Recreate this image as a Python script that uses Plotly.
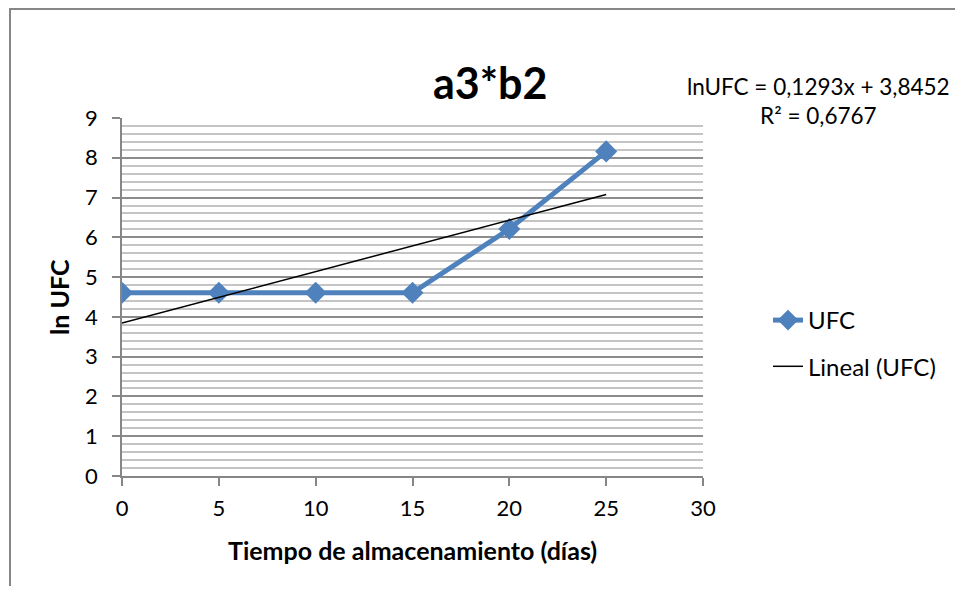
import plotly.graph_objects as go

# Data
dias = [0, 5, 10, 15, 20, 25]
ln_ufc = [4.605, 4.605, 4.605, 4.605, 6.21, 8.16]
pendiente = 0.1293
intercepto = 3.8452
r2 = 0.6767
x_ticks = [0, 5, 10, 15, 20, 25, 30]
y_ticks = [0, 1, 2, 3, 4, 5, 6, 7, 8, 9]

trend_x = [dias[0], dias[-1]]
trend_y = [pendiente * x + intercepto for x in trend_x]

FONT = "Lato, Carlito, Calibri, sans-serif"
BLUE = "#4F81BD"

OFF = 8  # page body offset
W, H = 963 - 2 * OFF, 594 - 2 * OFF
L, R, T, B = 122 - OFF, 703 - OFF, 118 - OFF, 476 - OFF


def px_x(p):
    return (p - OFF - L) / (R - L)


def px_y(p):
    return (B - (p - OFF)) / (B - T)


fig = go.Figure()
fig.add_trace(go.Scatter(
    x=dias, y=ln_ufc, mode="lines+markers", name="UFC",
    line=dict(color=BLUE, width=5),
    marker=dict(symbol="diamond", size=17, color=BLUE),
    legendgroup="a",
))
fig.add_trace(go.Scatter(
    x=trend_x, y=trend_y, mode="lines", name="Lineal (UFC)",
    line=dict(color="black", width=1.5),
    legendgroup="b",
))

fig.update_layout(
    width=W, height=H,
    margin=dict(l=L, r=W - R, t=T, b=H - B, pad=0),
    paper_bgcolor="white", plot_bgcolor="white",
    font=dict(family=FONT, size=22, color="black"),
    showlegend=True,
    legend=dict(x=px_x(768), xanchor="left", y=px_y(298), yanchor="top",
                font=dict(size=24, family=FONT), bgcolor="rgba(0,0,0,0)",
                tracegroupgap=12, traceorder="grouped"),
    xaxis=dict(range=[0, 30], tickvals=x_ticks, showgrid=False, zeroline=False,
               showline=True, linecolor="#868686", linewidth=1.5,
               ticks="outside", ticklen=8, tickcolor="#868686", tickwidth=1.5,
               tickfont=dict(size=22), ticklabelstandoff=4),
    yaxis=dict(range=[0, 9], tickvals=y_ticks, showgrid=True, gridcolor="#8c8c8c", gridwidth=1.5,
               zeroline=False, showline=True, linecolor="#868686", linewidth=1.5,
               ticks="outside", ticklen=8, tickcolor="#868686", tickwidth=1.5,
               tickfont=dict(size=22), ticklabelstandoff=10,
               minor=dict(dtick=0.2, showgrid=True, gridcolor="#c4c4c4", gridwidth=1.5, ticks="")),
)

# Title
fig.add_annotation(text="<b>a3*b2</b>", xref="paper", yref="paper",
                   x=px_x(490), y=px_y(82), xanchor="center", yanchor="middle",
                   showarrow=False, font=dict(size=43, family=FONT))
# Axis titles
fig.add_annotation(text="<b>Tiempo de almacenamiento (días)</b>", xref="paper", yref="paper",
                   x=px_x(412), y=px_y(550), xanchor="center", yanchor="middle",
                   showarrow=False, font=dict(size=25, family=FONT))
fig.add_annotation(text="<b>ln UFC</b>", xref="paper", yref="paper",
                   x=px_x(59), y=px_y(297), xanchor="center", yanchor="middle", textangle=-90,
                   showarrow=False, font=dict(size=25, family=FONT))

# Trendline equation (one text block, two lines)
eq_text = (f"lnUFC = {str(pendiente).replace('.', ',')}x + {str(intercepto).replace('.', ',')}"
           f"<br>R² = {str(r2).replace('.', ',')}")
fig.add_annotation(
    text=eq_text,
    xref="paper", yref="paper", x=px_x(952), y=px_y(101), xanchor="right", yanchor="middle",
    showarrow=False, align="center", font=dict(size=22.5, family=FONT),
)

fig.add_shape(type="rect", xref="paper", yref="paper",
              x0=px_x(10), x1=px_x(990), y0=px_y(9), y1=px_y(620),
              line=dict(color="#868686", width=2), layer="below")

fig.write_html("out.html")
